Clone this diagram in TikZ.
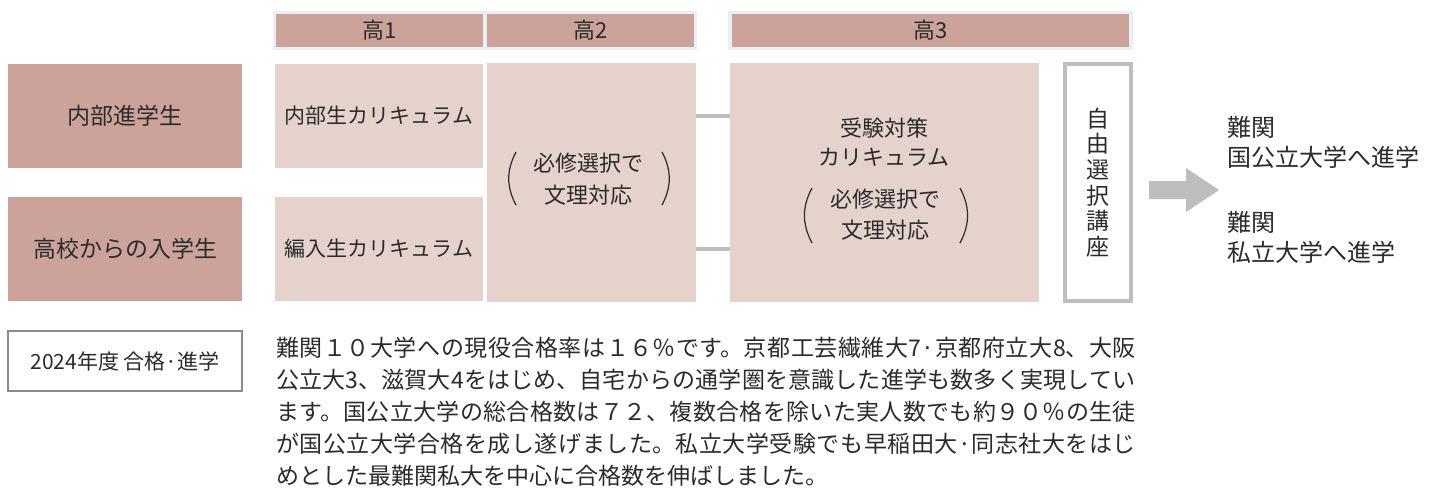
\documentclass[tikz,border=0pt]{standalone}
\usepackage{fontspec}
\setmainfont{Noto Sans CJK JP}
\usepackage{tikz}
\XeTeXlinebreaklocale "ja"
\XeTeXlinebreakskip=0pt plus 1pt

\definecolor{rose}{HTML}{CCA39B}
\definecolor{blush}{HTML}{E6D2CC}
\definecolor{mist}{HTML}{E9EFF3}
\definecolor{rulegray}{HTML}{BEBEBE}
\definecolor{framegray}{HTML}{8A8A8A}
\definecolor{ink}{HTML}{2B2B2B}

\begin{document}
\begin{tikzpicture}[x=0.5pt,y=-0.5pt,
    every node/.style={text=ink,inner sep=0pt,outer sep=0pt},
    band/.style={fill=mist,minimum height=19.5pt},
    hdr/.style={fill=rose,minimum height=16.5pt,font=\fontsize{11pt}{13pt}\selectfont},
    entry/.style={fill=rose,minimum width=117pt,minimum height=52pt,font=\fontsize{11.5pt}{14pt}\selectfont},
    course/.style={fill=blush,minimum width=104pt,minimum height=52pt,font=\fontsize{10.5pt}{13pt}\selectfont},
    stage/.style={fill=blush,minimum height=119.5pt},
    link/.style={draw=rulegray,line width=2pt},
    paren/.style={draw=ink,line width=0.6pt},
    %note/.style={align=left},
]
    \useasboundingbox (0,0) rectangle (1440,499);

    % year headers
    \node[band,minimum width=212pt] (band12) at (485,30.5) {};
    \node[hdr,minimum width=103.5pt] (y1) at (379.5,30.5) {高1};
    \node[hdr,minimum width=103.5pt] (y2) at (590.5,30.5) {高2};
    \node[band,minimum width=202.5pt] (band3) at (930.5,30.5) {};
    \node[hdr,minimum width=198.5pt] (y3) at (930.5,30.5) {高3};

    % students
    \node[entry] (inner) at (125,116) {内部進学生};
    \node[entry] (outer) at (125,249) {高校からの入学生};

    \node[course] (curA) at (379,116) {内部生カリキュラム};
    \node[course] (curB) at (379,249) {編入生カリキュラム};

    \node[stage,minimum width=104.5pt] (y2box) at (591.5,182.5) {};
    \node[align=center,font=\fontsize{11pt}{16pt}\selectfont] (sel2) at (588,179) {必修選択で\\文理対応};
    \draw[paren] (516,152) to[bend right=28] (516,205);
    \draw[paren] (662,152) to[bend left=28] (662,205);

    \node[stage,minimum width=154.5pt] (y3box) at (884.5,182.5) {};
    \node[align=center,font=\fontsize{11pt}{14.5pt}\selectfont] (exam) at (884,142.5) {受験対策\\カリキュラム};
    \node[align=center,font=\fontsize{11pt}{15.5pt}\selectfont] (sel3) at (885,214.5) {必修選択で\\文理対応};
    \draw[paren] (812,188) to[bend right=28] (812,243);
    \draw[paren] (960,188) to[bend left=28] (960,243);

    \draw[link] (y2box.east |- curA) -- (y3box.west |- curA);
    \draw[link] (y2box.east |- curB) -- (y3box.west |- curB);

    \node[draw=rulegray,line width=2pt,minimum width=33pt,minimum height=118.5pt] (free) at (1098,182.5) {};
    \node[align=center,font=\fontsize{11.5pt}{12.8pt}\selectfont] (freetxt) at (free) {自\\由\\選\\択\\講\\座};

    % arrow to results
    \coordinate (tip) at (1219,190);
    \fill[rulegray] (1149,181) -- (1186,181) -- (1186,168) -- (tip) -- (1186,212) -- (1186,199) -- (1149,199) -- cycle;

    \node[anchor=west,align=left,font=\fontsize{12pt}{15pt}\selectfont] (natl) at (1227,142.5) {難関\\国公立大学へ進学};
    \node[anchor=west,align=left,font=\fontsize{12pt}{15pt}\selectfont] (priv) at (1227,237) {難関\\私立大学へ進学};

    % results 2024
    \node[draw=framegray,line width=0.8pt,minimum width=117pt,minimum height=30pt,font=\fontsize{10.5pt}{13pt}\selectfont] (year) at (125,361) {2024年度 合格·進学};
    \node[anchor=north west,text width=430pt,align=justify,font=\fontsize{11.5pt}{16pt}\selectfont] (story) at (276,337) {%
        難関１０大学への現役合格率は１６％です。京都工芸繊維大7·京都府立大8、大阪\linebreak
        公立大3、滋賀大4をはじめ、自宅からの通学圏を意識した進学も数多く実現してい\linebreak
        ます。国公立大学の総合格数は７２、複数合格を除いた実人数でも約９０％の生徒\linebreak
        が国公立大学合格を成し遂げました。私立大学受験でも早稲田大·同志社大をはじ\linebreak
        めとした最難関私大を中心に合格数を伸ばしました。};
\end{tikzpicture}
\end{document}
